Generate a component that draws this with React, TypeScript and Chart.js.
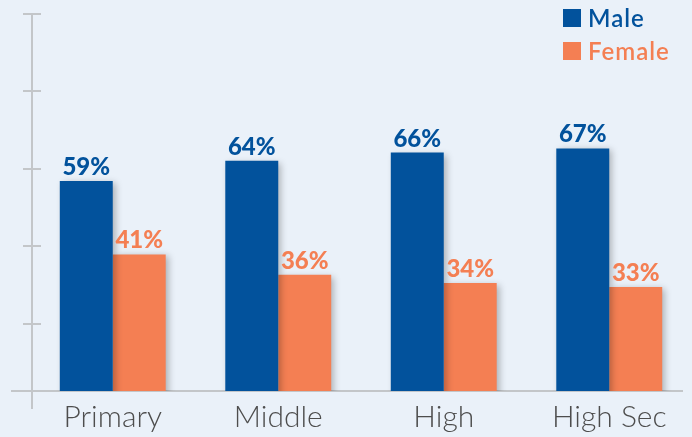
import React, { useEffect, useRef } from "react";
import { Chart, registerables } from "chart.js";

Chart.register(...registerables);

const CATEGORIES = ["Primary", "Middle", "High", "High Sec"];
const MALE = [59, 64, 66, 67];
const FEMALE = [41, 36, 34, 33];
const SERIES_NAMES = ["Male", "Female"];
const Y_TICKS = [24, 43, 62, 81, 100];
const Y_MIN = 7.5;
const Y_MAX = 100;

const BLUE = "#02529c";
const ORANGE = "#f47f53";
const AXIS_GRAY = "#c3c6c9";
const BG = "#eaf1f9";

const shadowPlugin = {
  id: "barShadow",
  beforeDatasetDraw(chart: any) {
    const ctx = chart.ctx;
    ctx.save();
    ctx.shadowColor = "rgba(0,0,0,0.28)";
    ctx.shadowBlur = 7;
    ctx.shadowOffsetX = 3;
    ctx.shadowOffsetY = 2;
  },
  afterDatasetDraw(chart: any) {
    chart.ctx.restore();
  },
};

const axesPlugin = {
  id: "decorAxes",
  beforeDatasetsDraw(chart: any) {
    const ctx = chart.ctx;
    const y = chart.scales.y;
    const area = chart.chartArea;
    const axisX = area.left + 2;
    ctx.save();
    ctx.strokeStyle = AXIS_GRAY;
    ctx.lineWidth = 2;
    ctx.beginPath();
    ctx.moveTo(axisX, y.getPixelForValue(Y_MAX));
    ctx.lineTo(axisX, area.bottom + 18);
    ctx.stroke();
    Y_TICKS.forEach((v) => {
      const py = Math.round(y.getPixelForValue(v));
      ctx.beginPath();
      ctx.moveTo(axisX - 9, py);
      ctx.lineTo(axisX + 9, py);
      ctx.stroke();
    });
    ctx.beginPath();
    ctx.moveTo(axisX - 21, area.bottom);
    ctx.lineTo(area.right - 9, area.bottom);
    ctx.stroke();
    ctx.restore();
  },
};

const labelsPlugin = {
  id: "valueLabels",
  afterDatasetsDraw(chart: any) {
    const ctx = chart.ctx;
    ctx.save();
    ctx.font = "900 24px Lato";
    ctx.textAlign = "center";
    ctx.textBaseline = "alphabetic";
    chart.data.datasets.forEach((ds: any, i: number) => {
      const meta = chart.getDatasetMeta(i);
      ctx.fillStyle = ds.backgroundColor;
      meta.data.forEach((bar: any, j: number) => {
        ctx.fillText(ds.data[j] + "%", bar.x, bar.y - 6);
      });
    });
    ctx.restore();
  },
};

const legendPlugin = {
  id: "cornerLegend",
  afterDraw(chart: any) {
    const ctx = chart.ctx;
    ctx.save();
    ctx.font = "600 24px Lato";
    (ctx as any).letterSpacing = "1px";
    ctx.textBaseline = "middle";
    ctx.textAlign = "left";
    chart.data.datasets.forEach((ds: any, i: number) => {
      const cy = 18 + i * 33;
      ctx.fillStyle = ds.backgroundColor;
      ctx.fillRect(563, cy - 9, 18, 18);
      ctx.fillText(ds.label, 588, cy + 1);
    });
    ctx.restore();
  },
};

export default function App() {
  const ref = useRef<HTMLCanvasElement | null>(null);
  useEffect(() => {
    if (!ref.current) return;
    const chart = new Chart(ref.current, {
      type: "bar",
      data: {
        labels: CATEGORIES,
        datasets: [
          { label: SERIES_NAMES[0], data: MALE, backgroundColor: BLUE },
          { label: SERIES_NAMES[1], data: FEMALE, backgroundColor: ORANGE },
        ],
      },
      options: {
        animation: false,
        responsive: true,
        maintainAspectRatio: false,
        layout: { padding: { top: 14, left: 30, right: 0, bottom: 2 } },
        datasets: { bar: { categoryPercentage: 0.64, barPercentage: 1 } },
        plugins: { legend: { display: false }, tooltip: { enabled: false } },
        scales: {
          x: {
            grid: { display: false },
            border: { display: false },
            ticks: {
              color: "#4d4d4d",
              padding: 0,
              font: { family: "Lato", size: 30, weight: "300" as any },
            },
          },
          y: {
            display: false,
            min: Y_MIN,
            max: Y_MAX,
            afterBuildTicks: (s: any) => {
              s.ticks = Y_TICKS.map((v) => ({ value: v }));
            },
          },
        },
      },
      plugins: [shadowPlugin, axesPlugin, labelsPlugin, legendPlugin],
    });
    return () => chart.destroy();
  }, []);
  return (
    <div
      style={{
        position: "absolute",
        left: 0,
        top: 0,
        width: 692,
        height: 437,
        background: BG,
      }}
    >
      <canvas ref={ref} />
    </div>
  );
}
